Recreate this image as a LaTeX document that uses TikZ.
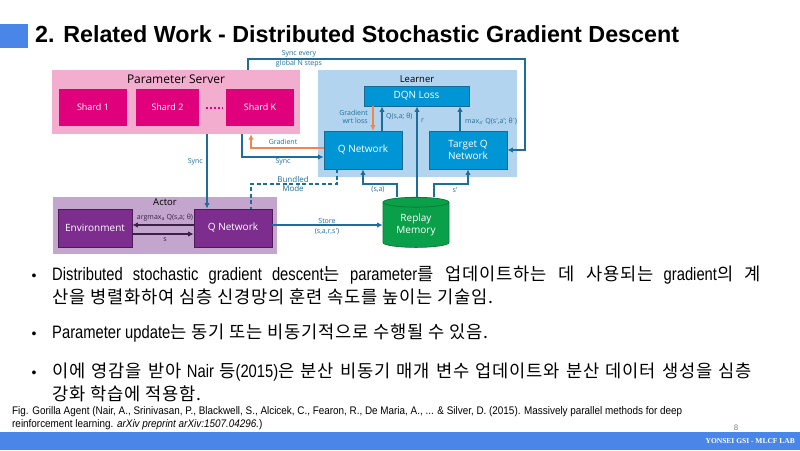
\documentclass[tikz,border=0pt]{standalone}
\usepackage{fontspec}
\setmainfont{Liberation Sans}
\newfontfamily\diagfont{Open Sans}
\newfontfamily\narrowfont[FakeStretch=0.82]{Liberation Sans}
\newfontfamily\citefont[FakeStretch=0.9]{Liberation Sans}
\newfontfamily\krfont[Scale=0.98, LetterSpace=4.5]{Noto Sans CJK KR}
\newfontfamily\labfont{Liberation Serif}
\usetikzlibrary{shapes.geometric, arrows.meta}

\definecolor{headblue}{HTML}{4A86E8}
\definecolor{pspink}{HTML}{F3AECF}
\definecolor{shardred}{HTML}{E0007B}
\definecolor{learnbg}{HTML}{B3D4EE}
\definecolor{netblue}{HTML}{0096D5}
\definecolor{netedge}{HTML}{1A6893}
\definecolor{actbg}{HTML}{C3A5CD}
\definecolor{actpurple}{HTML}{7D2D8D}
\definecolor{actedge}{HTML}{4E1A5A}
\definecolor{memgreen}{HTML}{0AA04A}
\definecolor{memedge}{HTML}{087A37}
\definecolor{linkblue}{HTML}{1F6E99}
\definecolor{gradorange}{HTML}{F0874A}
\definecolor{actlink}{HTML}{3C2046}

\newcommand\kr[1]{{\krfont#1}}

\newcommand\slideframe[0]{
	% header
	\fill [headblue] (0,24) rectangle (28,48);
	\node [anchor=base west, inner sep=0, font=\bfseries\fontsize{23.3}{28}\selectfont] (title) at (35,42) {2. Related Work - Distributed Stochastic Gradient Descent};
	% footer
	\fill [headblue] (0,432) rectangle (800,450);
	\node [anchor=east, inner sep=0, text=white, font=\labfont\bfseries\fontsize{7.5}{9}\selectfont] (lab) at (795,441) {YONSEI GSI - MLCF LAB};
	\node [inner sep=0, text=gray, font=\fontsize{8}{9}\selectfont] (page) at (736,428) {8};
}

\begin{document}
\begin{tikzpicture}[x=1pt, y=-1pt, >={Latex[length=5.5pt,width=5.5pt]},
	group/.style={inner sep=0},
	grouptitle/.style={inner sep=0, font=\diagfont\fontsize{9.5}{11}\selectfont},
	shard/.style={fill=shardred, text=white, inner sep=0, minimum height=37, font=\diagfont\fontsize{9}{11}\selectfont},
	netbox/.style={fill=netblue, draw=netedge, line width=0.8, text=white, inner sep=0, align=center, font=\diagfont\fontsize{10}{12}\selectfont},
	actbox/.style={fill=actpurple, draw=actedge, line width=0.8, text=white, inner sep=0, minimum width=78, minimum height=38, font=\diagfont\fontsize{10}{12}\selectfont},
	link/.style={draw=linkblue, line width=1.3, ->},
	grad/.style={draw=gradorange, line width=1.3, ->},
	bundle/.style={draw=linkblue, line width=1.5, dash pattern=on 4pt off 2.5pt},
	actarrow/.style={draw=actlink, line width=1.3, ->},
	dotrow/.style={draw=shardred, line width=2, dash pattern=on 2pt off 2pt},
	lbl/.style={inner sep=0, text=linkblue, align=center, font=\diagfont\fontsize{7}{8.5}\selectfont},
	actlbl/.style={inner sep=0, text=actlink, font=\diagfont\fontsize{7}{8.5}\selectfont},
	bullet/.style={anchor=base, inner sep=0, font=\fontsize{14}{16}\selectfont},
	body/.style={anchor=base west, inner sep=0, font=\narrowfont\fontsize{18}{22}\selectfont},
	cite/.style={anchor=base west, inner sep=0, font=\citefont\fontsize{11}{13}\selectfont}]
	\useasboundingbox (0,0) rectangle (800,450);
	\slideframe

	% parameter server
	\node [group, fill=pspink, minimum width=248, minimum height=64] (ps) at (176,102) {};
	\node [grouptitle, font=\diagfont\fontsize{12}{14}\selectfont] (pstitle) at (176,79) {Parameter Server};
	\node [shard, minimum width=68] (shard1) at (93,107.5) {Shard 1};
	\node [shard, minimum width=63] (shard2) at (167.5,107.5) {Shard 2};
	\node [shard, minimum width=68] (shardk) at (260,107.5) {Shard K};
	\draw [dotrow] ([xshift=7]shard2.east) -- ([xshift=-3]shardk.west);

	% learner
	\node [group, fill=learnbg, minimum width=199, minimum height=107] (learner) at (417.5,123.5) {};
	\node [grouptitle] (learnertitle) at (417,79) {Learner};
	\node [netbox, minimum width=105, minimum height=20] (loss) at (416.5,96) {DQN Loss};
	\node [netbox, minimum width=78, minimum height=38] (qnet) at (363,150) {Q Network};
	\node [netbox, minimum width=78, minimum height=38] (tqnet) at (468,150) {Target Q\\Network};

	% actor
	\node [group, fill=actbg, minimum width=224, minimum height=57] (actor) at (165,225.5) {};
	\node [grouptitle] (actortitle) at (165,202) {Actor};
	\node [actbox, minimum width=74] (env) at (95,228) {Environment};
	\node [actbox] (aqnet) at (233,228) {Q Network};

	% replay memory
	\node [cylinder, shape border rotate=90, aspect=0.25, minimum width=66, minimum height=50, fill=memgreen, draw=memedge, line width=0.8, text=white, align=center, inner sep=0, font=\diagfont\fontsize{10}{12}\selectfont] (replay) at (416,225) {Replay\\Memory};

	% turning points
	\coordinate (syncA) at (207,0);
	\coordinate (syncL) at (242,157);
	\coordinate (gradL) at (251,148);
	\coordinate (every) at (248,59);
	\coordinate (bundleA) at (337,0);
	\coordinate (bundleB) at (251,184);
	\coordinate (sa) at (363,184);
	\coordinate (snext) at (468,184);

	% sync and gradient
	\draw [link] (ps.south -| syncA) -- (aqnet.north -| syncA);
	\node [lbl, anchor=east] (syncAlbl) at (203,162) {Sync};
	\draw [link] (ps.south -| syncL) |- (qnet.west |- syncL);
	\node [lbl] (syncLlbl) at (283,162) {Sync};
	\draw [grad] (qnet.west |- gradL) -| (ps.south -| gradL);
	\node [lbl] (gradlbl) at (283,142) {Gradient};
	\draw [link] (ps.north -| every) |- (525,59) |- (tqnet.east);
	\node [lbl] (everylbl) at (299,54) {Sync every};
	\node [lbl] (everylbl2) at (299,64) {global N steps};
	\draw [bundle] (qnet.south -| bundleA) |- (bundleB) -- (aqnet.north -| bundleB);
	\node [lbl, font=\diagfont\fontsize{8}{9.5}\selectfont] (bundlelbl) at (293,184) {Bundled\\Mode};

	% inside learner
	\draw [grad] (loss.south -| 373,0) -- (qnet.north -| 373,0);
	\node [lbl, anchor=east, align=right] (gwl) at (368,117) {Gradient\\wrt loss};
	\draw [link] (qnet.north -| 382,0) -- (loss.south -| 382,0);
	\node [lbl, anchor=west] (qlbl) at (386,116) {Q(s,a; θ)};
	\draw [link] (replay.north -| 417,0) -- (loss.south -| 417,0);
	\node [lbl, anchor=west] (rlbl) at (421,121) {r};
	\draw [link] (tqnet.north -| 460,0) -- (loss.south -| 460,0);
	\node [lbl, anchor=west] (maxlbl) at (465,121) {max\textsubscript{a'} Q(s',a'; θ\textsuperscript{-})};

	% replay to learner
	\draw [link] (replay.north -| 397,0) |- (sa) -- (qnet.south -| sa);
	\node [lbl] (salbl) at (378,190) {(s,a)};
	\draw [link] (replay.north -| 434,0) |- (snext) -- (tqnet.south -| snext);
	\node [lbl] (snextlbl) at (455,190) {s'};

	% actor loop and store
	\draw [actarrow] (aqnet.west |- 0,225) -- (env.east |- 0,225);
	\node [actlbl] (argmaxlbl) at (165,218) {argmax\textsubscript{a} Q(s,a; θ)};
	\draw [actarrow] (env.east |- 0,234) -- (aqnet.west |- 0,234);
	\node [actlbl] (slbl) at (165,240) {s};
	\draw [link] (aqnet.east |- replay.west) -- (replay.west);
	\node [lbl] (storelbl) at (327,221) {Store};
	\node [lbl] (storelbl2) at (327,232) {(s,a,r,s')};

	% bullets
	\node [bullet] (b1) at (34,280) {•};
	\node [body] (t1) at (52,280) {\hbox to 709pt{Distributed stochastic gradient descent\kr{는} parameter\kr{를 업데이트하는 데 사용되는} gradient\kr{의 계}}};
	\node [body] (t1b) at (52,303) {\kr{산을 병렬화하여 심층 신경망의 훈련 속도를 높이는 기술임.}};
	\node [bullet] (b2) at (34,338) {•};
	\node [body] (t2) at (52,338) {Parameter update\kr{는 동기 또는 비동기적으로 수행될 수 있음.}};
	\node [bullet] (b3) at (34,377) {•};
	\node [body] (t3) at (52,377) {\hbox to 700pt{\kr{이에 영감을 받아} Nair \kr{등}(2015)\kr{은 분산 비동기 매개 변수 업데이트와 분산 데이터 생성을 심층}}};
	\node [body] (t3b) at (52,400) {\kr{강화 학습에 적용함.}};

	% citation
	\node [cite] (cite1) at (12,414) {Fig. Gorilla Agent (Nair, A., Srinivasan, P., Blackwell, S., Alcicek, C., Fearon, R., De Maria, A., ... \& Silver, D. (2015). Massively parallel methods for deep};
	\node [cite] (cite2) at (12,427) {reinforcement learning. \textit{arXiv preprint arXiv:1507.04296.})};
\end{tikzpicture}
\end{document}
